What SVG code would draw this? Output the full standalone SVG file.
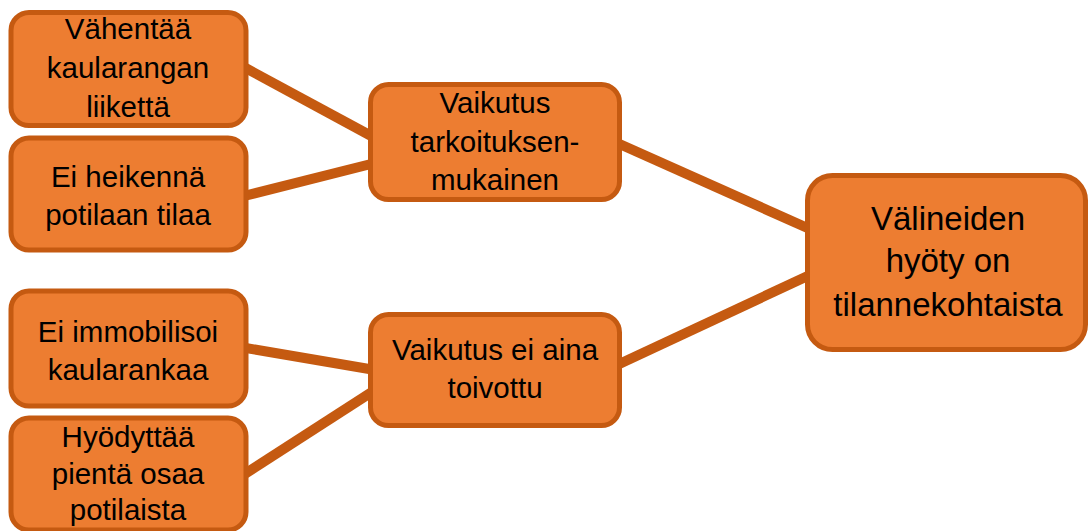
<svg xmlns="http://www.w3.org/2000/svg" width="1089" height="531" viewBox="0 0 1089 531">
<style>
.box{fill:#ED7D31;stroke:#C55A11;stroke-width:5}
.t{font-family:"Liberation Sans",Arial,sans-serif;font-size:29.5px;fill:#000;text-anchor:middle}
.tb{font-family:"Liberation Sans",Arial,sans-serif;font-size:33px;fill:#000;text-anchor:middle}
.c{stroke:#C55A11;stroke-width:10;fill:none}
</style>
<rect width="1089" height="531" fill="#fff"/>
<g id="connectors">
<line class="c" x1="240" y1="65" x2="375" y2="138"/>
<line class="c" x1="240" y1="197" x2="375" y2="163"/>
<line class="c" x1="240" y1="347" x2="375" y2="370"/>
<line class="c" x1="240" y1="477" x2="375" y2="390"/>
<line class="c" x1="615" y1="142" x2="812" y2="230"/>
<line class="c" x1="615" y1="366" x2="812" y2="274"/>
</g>
<g id="n1"><rect class="box" x="11" y="12.5" width="235" height="113" rx="18"/>
<text class="t" x="128" y="39">Vähentää</text><text class="t" x="128" y="78">kaularangan</text><text class="t" x="128" y="117">liikettä</text></g>
<g id="n2"><rect class="box" x="11" y="138" width="235" height="112" rx="18"/>
<text class="t" x="128" y="187">Ei heikennä</text><text class="t" x="128" y="225">potilaan tilaa</text></g>
<g id="n3"><rect class="box" x="11" y="291" width="235" height="115" rx="18"/>
<text class="t" x="128" y="342">Ei immobilisoi</text><text class="t" x="128" y="380">kaularankaa</text></g>
<g id="n4"><rect class="box" x="11" y="418" width="235" height="112" rx="18"/>
<text class="t" x="128" y="447">Hyödyttää</text><text class="t" x="128" y="484">pientä osaa</text><text class="t" x="128" y="520">potilaista</text></g>
<g id="m1"><rect class="box" x="370.5" y="84.5" width="249" height="115" rx="18"/>
<text class="t" x="495" y="113">Vaikutus</text><text class="t" x="495" y="152">tarkoituksen-</text><text class="t" x="495" y="190">mukainen</text></g>
<g id="m2"><rect class="box" x="370.5" y="314.5" width="249" height="111" rx="18"/>
<text class="t" x="495" y="360">Vaikutus ei aina</text><text class="t" x="495" y="398">toivottu</text></g>
<g id="r"><rect class="box" x="807.5" y="175.5" width="278" height="174" rx="25"/>
<text class="tb" x="948" y="230">Välineiden</text><text class="tb" x="948" y="272">hyöty on</text><text class="tb" x="948" y="316">tilannekohtaista</text></g>
</svg>
